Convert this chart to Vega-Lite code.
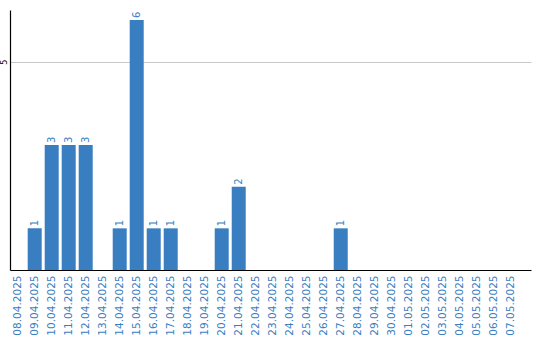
{
  "$schema": "https://vega.github.io/schema/vega-lite/v6.json",
  "width": 521,
  "height": 260,
  "autosize": "none",
  "padding": {"left": 10, "top": 10, "right": 9, "bottom": 70},
  "background": "white",
  "config": {
    "view": {"stroke": null},
    "font": "DejaVu Sans"
  },
  "data": {
    "values": [
      {"date": "08.04.2025", "count": 0},
      {"date": "09.04.2025", "count": 1},
      {"date": "10.04.2025", "count": 3},
      {"date": "11.04.2025", "count": 3},
      {"date": "12.04.2025", "count": 3},
      {"date": "13.04.2025", "count": 0},
      {"date": "14.04.2025", "count": 1},
      {"date": "15.04.2025", "count": 6},
      {"date": "16.04.2025", "count": 1},
      {"date": "17.04.2025", "count": 1},
      {"date": "18.04.2025", "count": 0},
      {"date": "19.04.2025", "count": 0},
      {"date": "20.04.2025", "count": 1},
      {"date": "21.04.2025", "count": 2},
      {"date": "22.04.2025", "count": 0},
      {"date": "23.04.2025", "count": 0},
      {"date": "24.04.2025", "count": 0},
      {"date": "25.04.2025", "count": 0},
      {"date": "26.04.2025", "count": 0},
      {"date": "27.04.2025", "count": 1},
      {"date": "28.04.2025", "count": 0},
      {"date": "29.04.2025", "count": 0},
      {"date": "30.04.2025", "count": 0},
      {"date": "01.05.2025", "count": 0},
      {"date": "02.05.2025", "count": 0},
      {"date": "03.05.2025", "count": 0},
      {"date": "04.05.2025", "count": 0},
      {"date": "05.05.2025", "count": 0},
      {"date": "06.05.2025", "count": 0},
      {"date": "07.05.2025", "count": 0}
    ]
  },
  "encoding": {
    "x": {
      "field": "date",
      "type": "ordinal",
      "sort": null,
      "scale": {"paddingInner": 0.176, "paddingOuter": 0.41, "align": 0.05},
      "axis": {
        "title": null,
        "labelAngle": 270,
        "labelColor": "#3a7ec2",
        "labelFontSize": 10.5,
        "labelPadding": 5,
        "ticks": false,
        "domainColor": "#000000",
        "domainWidth": 1.2,
        "grid": false
      }
    },
    "y": {
      "field": "count",
      "type": "quantitative",
      "scale": {"domain": [0, 6.24], "nice": false},
      "axis": {
        "title": null,
        "values": [5],
        "labelAngle": 270,
        "labelFontSize": 8,
        "labelColor": "#000000",
        "labelPadding": 2,
        "labelAlign": "center",
        "labelBaseline": "bottom",
        "ticks": false,
        "domainColor": "#000000",
        "domainWidth": 1.2,
        "grid": true,
        "gridColor": "#c8c8c8",
        "gridWidth": 1
      }
    }
  },
  "layer": [
    {
      "mark": {"type": "bar", "color": "#3a7ec2"}
    },
    {
      "transform": [{"filter": "datum.count > 0"}],
      "mark": {
        "type": "text",
        "angle": 270,
        "align": "left",
        "baseline": "middle",
        "dx": 2,
        "fontSize": 10,
        "color": "#3a7ec2"
      },
      "encoding": {
        "text": {"field": "count", "type": "quantitative"}
      }
    }
  ]
}
